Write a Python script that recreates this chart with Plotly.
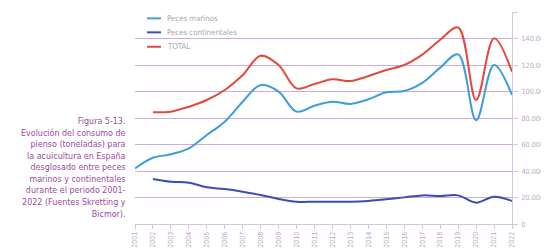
import plotly.graph_objects as go

years = list(range(2001, 2023))
marinos = [42000, 50000, 52600, 57100, 67200, 77200, 92300, 104900, 99900, 84800, 89300,
           92300, 90600, 94100, 99400, 100400, 106500, 118000, 128000, 78300, 120000, 97400]
cont_years = list(range(2002, 2023))
continentales = [34000, 31900, 31200, 27700, 26400, 24400, 21900, 18900, 16800, 16800,
                 16800, 16800, 17400, 18600, 20100, 21600, 21100, 21600, 16100, 20600, 17400]
total_years = list(range(2002, 2023))
total = [84300, 84800, 88500, 93600, 101100, 112400, 127000, 120000, 102400, 105700,
         109200, 107900, 111700, 116200, 120000, 127800, 139000, 148300, 93600, 140100, 115000]

series_names = ["Peces marinos", "Peces continentales", "TOTAL"]
series_colors = ["#3d9ddc", "#3a4db3", "#e24a3b"]
caption = ("Figura 5-13.<br>Evolución del consumo de<br>pienso (toneladas) para<br>"
           "la acuicultura en España<br>desglosado entre peces<br>marinos y continentales<br>"
           "durante el periodo 2001-<br>2022 (Fuentes Skretting y<br>Bicmor).")

font_c = "Liberation Sans Narrow, DejaVu Sans Condensed, Roboto Condensed, sans-serif"

fig = go.Figure()
for xs, ys, name, col in [(years, marinos, series_names[0], series_colors[0]),
                          (cont_years, continentales, series_names[1], series_colors[1]),
                          (total_years, total, series_names[2], series_colors[2])]:
    fig.add_trace(go.Scatter(x=xs, y=ys, name=name, mode="lines",
                             line=dict(color=col, width=2, shape="spline", smoothing=1.0)))

# compact legend (styling only): white box, short swatches and labels in paper coords
shapes = [dict(type="rect", xref="paper", yref="paper", x0=0, x1=0.2865, y0=0.81, y1=1.02,
               fillcolor="white", line=dict(width=0), layer="between")]
annotations = []
legend_rows = [0.970, 0.904, 0.836]
for name, col, ry in zip(series_names, series_colors, legend_rows):
    shapes.append(dict(type="line", xref="paper", yref="paper", x0=0.032, x1=0.069,
                       y0=ry, y1=ry, line=dict(color=col, width=2), layer="above"))
    annotations.append(dict(text=name, xref="paper", yref="paper", x=0.079, y=ry,
                            xanchor="left", yanchor="middle", showarrow=False,
                            font=dict(family=font_c, size=7.8, color="#a6a6ae")))

annotations.append(dict(text=caption, xref="paper", yref="paper", x=-0.0175, y=0.521,
                        xanchor="right", yanchor="top", align="right", showarrow=False,
                        font=dict(family=font_c, size=8.9, color="#9b4aa3")))

# the page body has an 8px margin, so the figure is sized to fit the 549x250 window
fig.update_layout(
    width=541, height=242,
    margin=dict(l=127, r=37, t=4, b=26, autoexpand=False),
    paper_bgcolor="white", plot_bgcolor="white",
    separators=",.",
    font=dict(family=font_c, color="#b9a3c4", size=8),
    showlegend=False,
    shapes=shapes,
    annotations=annotations,
)
fig.update_xaxes(range=[2001, 2022], tickmode="array", tickvals=years,
                 ticktext=[str(y) for y in years], tickangle=-90, automargin=False,
                 showgrid=False, zeroline=False, showline=True, linecolor="#d6c4de",
                 linewidth=1, ticks="outside", ticklen=4, tickcolor="#d6c4de",
                 tickfont=dict(size=7, color="#c0a8c8"))
fig.update_yaxes(range=[0, 160000], side="right", tickvals=list(range(0, 160001, 20000)),
                 tickformat=",.0f", showgrid=True, gridcolor="#cfaadb", gridwidth=1,
                 zeroline=False, showline=True, linecolor="#d6c4de", linewidth=1,
                 ticks="outside", ticklen=5, tickcolor="#d6c4de", automargin=False,
                 ticklabelstandoff=2,
                 tickfont=dict(size=7.2, color="#bca6c6"))

fig.write_html("out.html")
